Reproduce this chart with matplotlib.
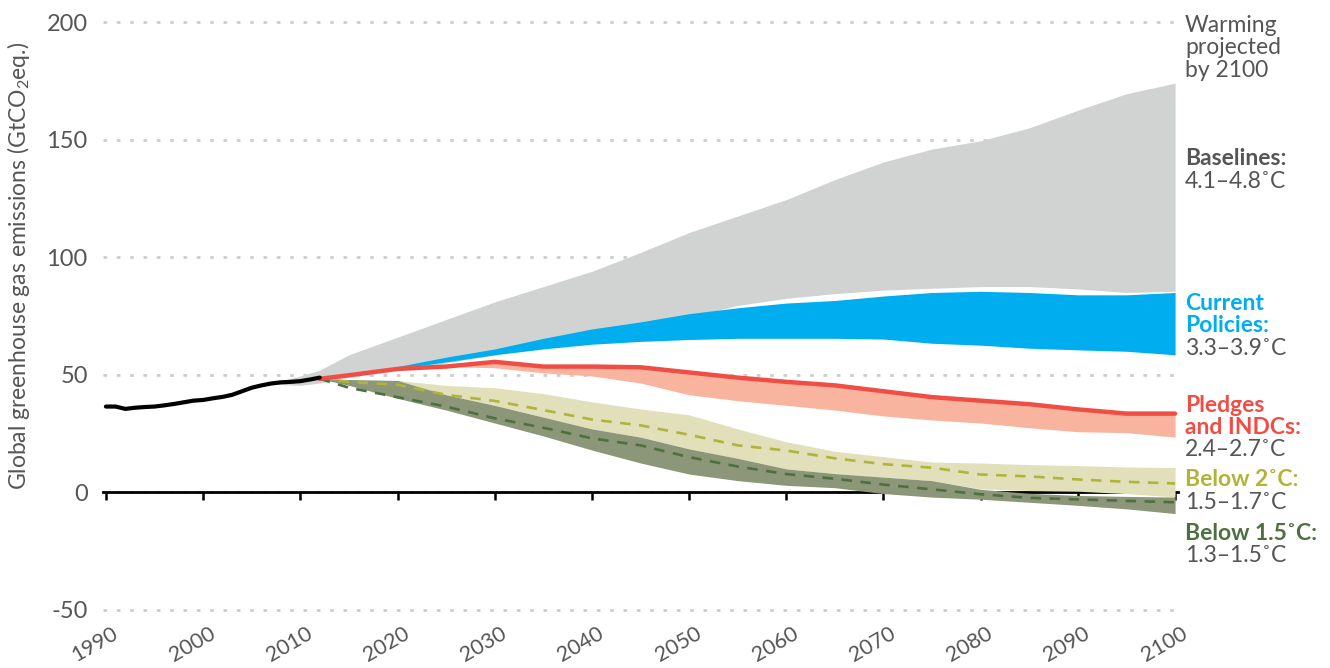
import matplotlib
matplotlib.use("Agg")
import matplotlib.pyplot as plt
from matplotlib.transforms import ScaledTranslation

plt.rcParams['font.family'] = ['Lato', 'DejaVu Sans']
plt.rcParams['mathtext.fontset'] = 'custom'
plt.rcParams['mathtext.rm'] = 'Lato'
plt.rcParams['mathtext.it'] = 'Lato'

# ---------------- data ----------------
hist_years = list(range(1990, 2013))
hist_vals = [36.5, 36.5, 35.5, 36.0, 36.3, 36.5, 37.0, 37.6, 38.3, 39.0, 39.3,
             40.0, 40.6, 41.5, 43.0, 44.5, 45.5, 46.3, 46.8, 47.0, 47.3, 48.0, 48.8]

proj_years = [2012, 2015, 2020, 2025, 2030, 2035, 2040, 2045, 2050, 2055,
              2060, 2065, 2070, 2075, 2080, 2085, 2090, 2095, 2100]

base_years = [2007, 2010] + proj_years
base_high = [46.5, 49.5, 52.0, 58.5, 66.0, 73.5, 81.0, 87.5, 94.0, 102.0, 110.5, 117.5,
             124.5, 133.0, 140.5, 146.0, 149.5, 155.0, 162.5, 169.5, 174.0]
base_low = [46.0, 45.5, 46.5, 49.0, 52.0, 55.0, 58.5, 62.5, 66.5, 70.5, 74.5, 79.5,
            82.5, 84.5, 86.0, 86.8, 87.5, 87.5, 86.5, 85.0, 85.5]

cur_years = proj_years[1:]
cur_high = [49.8, 53.5, 57.5, 61.0, 65.5, 69.5, 72.5, 76.0, 78.5,
            80.5, 81.6, 83.5, 85.0, 85.5, 85.0, 84.0, 84.0, 85.0]
cur_low = [49.8, 52.5, 55.5, 58.5, 61.0, 63.0, 64.2, 65.0, 65.5,
           65.5, 65.5, 65.2, 63.4, 62.6, 61.3, 60.6, 60.0, 58.5]

pledge_high = [48.3, 49.8, 52.5, 53.5, 55.5, 53.5, 53.5, 53.2, 51.0, 48.8,
               47.0, 45.5, 43.0, 40.5, 39.0, 37.5, 35.3, 33.5, 33.5]
pledge_low = [48.3, 49.8, 52.5, 53.5, 53.0, 50.8, 49.5, 46.5, 41.5, 39.0,
              37.0, 35.0, 32.5, 30.8, 29.5, 27.5, 25.8, 25.4, 23.5]

b2_high = [48.3, 48.0, 47.6, 45.5, 44.5, 42.0, 38.5, 35.5, 33.0, 27.0,
           21.5, 17.5, 15.2, 12.9, 12.5, 11.8, 11.4, 10.8, 10.6]
b2_low = [48.3, 48.0, 47.6, 41.5, 37.0, 32.0, 27.0, 23.5, 18.5, 14.5,
          10.0, 8.0, 6.5, 5.0, 1.5, 0.8, 0.5, -0.5, -2.0]
b2_mid = [48.3, 47.0, 45.8, 41.5, 38.9, 35.0, 31.0, 28.5, 24.5, 20.0,
          17.8, 14.5, 12.0, 10.5, 7.6, 6.8, 5.5, 4.5, 3.8]

b15_high = [48.3, 48.0, 47.6, 41.5, 37.0, 32.0, 27.0, 23.5, 18.5, 14.5,
            10.0, 8.0, 6.5, 5.0, 1.3, -0.4, -1.3, -1.7, -2.0]
b15_low = [48.3, 45.5, 40.0, 35.0, 29.5, 24.0, 18.0, 12.5, 7.8, 5.0,
           3.0, 2.0, -0.5, -2.0, -2.9, -4.2, -5.5, -7.0, -9.0]
b15_mid = [48.3, 44.5, 40.5, 36.5, 31.5, 27.5, 23.0, 20.0, 15.0, 11.0,
           7.8, 5.8, 3.3, 1.3, -0.8, -2.3, -3.0, -3.6, -4.2]

x_ticks = list(range(1990, 2101, 10))
y_ticks = [-50, 0, 50, 100, 150, 200]

# ---------------- colours ----------------
c_gray = '#d1d3d2'
c_blue = '#00aeef'
c_red = '#f04e45'
c_salmon = '#f9b4a0'
c_khaki = '#e2e0bb'
c_khaki_line = '#b0b43a'
c_olive = '#8b9778'
c_olive_line = '#4e7040'
c_text = '#555555'

fig = plt.figure(figsize=(13.3, 6.68), dpi=100)
ax = fig.add_axes([103 / 1330, 1 - 614.7 / 668, 1075 / 1330, (614.7 - 17.3) / 668])

ax.fill_between(base_years, base_low, base_high, color=c_gray, lw=0, zorder=3)
ax.fill_between(cur_years, cur_low, cur_high, color=c_blue, lw=0, zorder=4)
ax.fill_between(proj_years, pledge_low, pledge_high, color=c_salmon, lw=0, zorder=4)
ax.fill_between(proj_years, b2_low, b2_high, color=c_khaki, lw=0, zorder=5)
ax.fill_between(proj_years, b15_low, b15_high, color=c_olive, lw=0, zorder=6)

ax.plot(proj_years, b2_mid, color=c_khaki_line, lw=1.9, ls=(0, (4, 3.2)), zorder=7)
ax.plot(proj_years, b15_mid, color=c_olive_line, lw=1.9, ls=(0, (4, 3.2)), zorder=7)
ax.plot(proj_years, pledge_high, color=c_red, lw=3.2, zorder=8, solid_capstyle='round')
ax.plot(hist_years, hist_vals, color='black', lw=3.0, zorder=9, solid_capstyle='round')

ax.set_xlim(1989.7, 2100.3)
ax.set_ylim(-52, 202)

for s in ['top', 'right', 'left']:
    ax.spines[s].set_visible(False)
ax.spines['bottom'].set_position(('data', 0))
ax.spines['bottom'].set_linewidth(2.0)
ax.spines['bottom'].set_color('black')
ax.spines['bottom'].set_zorder(2.5)

ax.set_xticks(x_ticks)
ax.set_xticklabels([str(v) for v in x_ticks])
ax.set_yticks(y_ticks)
ax.set_yticklabels([str(v) for v in y_ticks])
ax.tick_params(axis='x', direction='out', length=6, width=1.8, color='black',
               pad=88, labelsize=15.5, labelcolor=c_text, labelrotation=30)
ax.tick_params(axis='y', length=0, pad=11, labelsize=17, labelcolor=c_text)
for lab in ax.get_xticklabels():
    lab.set_ha('center')
    lab.set_transform(lab.get_transform() + ScaledTranslation(-11 / 100, 0, fig.dpi_scale_trans))

ax.set_axisbelow(True)
ax.yaxis.grid(True, color='#cdcdcd', linestyle=(0, (1.3, 3.5)), linewidth=2.0)
ax.xaxis.grid(False)

fig.text(19 / 1330, 1 - 266 / 668, 'Global greenhouse gas emissions (GtCO$_2$eq.)',
         rotation=90, ha='center', va='center', fontsize=16.5, color=c_text)

tx = 1185 / 1330
def label(yb, s, color, bold=False):
    fig.text(tx, 1 - yb / 668, s, ha='left', va='baseline', fontsize=16.5,
             color=color, fontweight='bold' if bold else 'normal')

label(31.5, 'Warming', c_text)
label(54.5, 'projected', c_text)
label(77, 'by 2100', c_text)
label(165, 'Baselines:', c_text, True)
label(188, '4.1–4.8˚C', c_text)
label(310, 'Current', c_blue, True)
label(332, 'Policies:', c_blue, True)
label(355, '3.3–3.9˚C', c_text)
label(412, 'Pledges', c_red, True)
label(434, 'and INDCs:', c_red, True)
label(456, '2.4–2.7˚C', c_text)
label(486.5, 'Below 2˚C:', c_khaki_line, True)
label(509, '1.5–1.7˚C', c_text)
label(540, 'Below 1.5˚C:', c_olive_line, True)
label(562.5, '1.3–1.5˚C', c_text)

fig.savefig('out.png', dpi=100)
